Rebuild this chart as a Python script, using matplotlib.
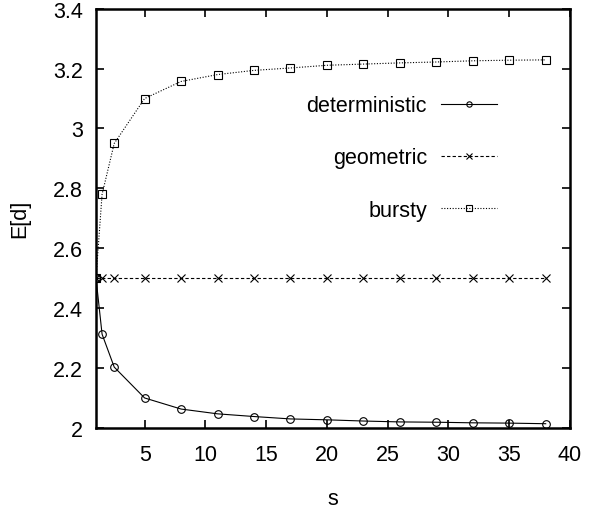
import matplotlib
matplotlib.use("Agg")
import matplotlib.pyplot as plt

plt.rcParams['font.family'] = ['Liberation Sans', 'DejaVu Sans']

# s values and E[d] for the three arrival models
s = [1, 1.5, 2.5, 5, 8, 11, 14, 17, 20, 23, 26, 29, 32, 35, 38]
deterministic = [2.5, 2.313, 2.203, 2.10, 2.063, 2.047, 2.038, 2.030, 2.027,
                 2.023, 2.020, 2.019, 2.017, 2.016, 2.014]
geometric = [2.5] * len(s)
bursty = [2.5, 2.78, 2.95, 3.10, 3.157, 3.18, 3.194, 3.202, 3.211,
          3.215, 3.219, 3.222, 3.226, 3.228, 3.229]

xticks = [5, 10, 15, 20, 25, 30, 35, 40]
yticks = [2, 2.2, 2.4, 2.6, 2.8, 3, 3.2, 3.4]
ytick_labels = ["2", "2.2", "2.4", "2.6", "2.8", "3", "3.2", "3.4"]

fig = plt.figure(figsize=(6, 5.1), dpi=100)
ax = fig.add_axes([0.16, 0.159, 0.79, 0.822])

ax.plot(s, deterministic, color='black', lw=0.8, ls='-', marker='o',
        ms=5.5, mfc='none', mew=0.8, label='deterministic')
ax.plot(s, geometric, color='black', lw=0.8, ls=(0, (3, 2)), marker='x',
        ms=5.5, mew=0.8, label='geometric')
ax.plot(s, bursty, color='black', lw=0.8, ls=(0, (1, 1.5)), marker='s',
        ms=5.5, mfc='none', mew=0.8, label='bursty')

ax.set_xlim(1, 40)
ax.set_ylim(2, 3.4)
ax.set_xticks(xticks)
ax.set_yticks(yticks)
ax.set_yticklabels(ytick_labels)
ax.tick_params(direction='in', length=6, width=1.2, labelsize=15.5,
               top=True, right=True)
ax.tick_params(axis='x', pad=11.5)
ax.tick_params(axis='y', pad=9.5)
for sp in ax.spines.values():
    sp.set_linewidth(1.8)

ax.set_xlabel('s', fontsize=15.5, labelpad=17)
ax.set_ylabel('E[d]', fontsize=15.5, labelpad=16)

ax.legend(loc='center right', bbox_to_anchor=(0.846, 0.644), frameon=False,
          fontsize=15.5, markerfirst=False, borderaxespad=0, borderpad=0,
          labelspacing=1.45, handlelength=2.6, handletextpad=0.65,
          markerscale=0.7)

fig.savefig('out.png', dpi=100)
